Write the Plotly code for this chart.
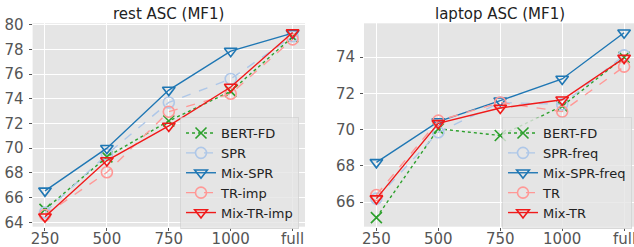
import plotly.graph_objects as go

categories = ["250", "500", "750", "1000", "full"]

rest_bert_fd = [65.05, 69.3, 72.2, 74.6, 79.0]
rest_spr = [64.8, 69.5, 73.7, 75.6, 79.05]
rest_mix_spr = [66.55, 70.0, 74.7, 77.85, 79.3]
rest_tr_imp = [64.6, 68.05, 72.95, 74.4, 78.8]
rest_mix_tr_imp = [64.45, 69.0, 71.8, 74.95, 79.35]

lap_bert_fd = [65.15, 70.05, 69.68, 71.3, 74.0]
lap_spr_freq = [66.2, 69.86, 71.5, 71.4, 74.1]
lap_mix_spr_freq = [68.2, 70.45, 71.6, 72.8, 75.35]
lap_tr = [66.4, 70.5, 71.5, 71.0, 73.48]
lap_mix_tr = [66.2, 70.35, 71.2, 71.65, 73.95]

GREEN = "#2ca02c"
LBLUE = "#aec7e8"
BLUE = "#1f77b4"
PINK = "#ff9896"
RED = "#f01a1a"

W, H = 634, 247
xs = list(range(len(categories)))

styles = [
    (GREEN, "dot", "x-thin-open"),
    (LBLUE, "dash", "circle-open"),
    (BLUE, "solid", "triangle-down-open"),
    (PINK, "dash", "circle-open"),
    (RED, "solid", "triangle-down-open"),
]

fig = go.Figure()

def add_panel(series, names, xa, ya, legend):
    for (vals, name, (c, d, s)) in zip(series, names, styles):
        fig.add_trace(go.Scatter(
            x=xs, y=vals, name=name, mode="lines+markers",
            line=dict(color=c, dash=d, width=1.4),
            marker=dict(symbol=s, size=11, color=c, line=dict(color=c, width=1.6)),
            xaxis=xa, yaxis=ya, legend=legend,
        ))

add_panel([rest_bert_fd, rest_spr, rest_mix_spr, rest_tr_imp, rest_mix_tr_imp],
          ["BERT-FD", "SPR", "Mix-SPR", "TR-imp", "Mix-TR-imp"], "x", "y", "legend")
add_panel([lap_bert_fd, lap_spr_freq, lap_mix_spr_freq, lap_tr, lap_mix_tr],
          ["BERT-FD", "SPR-freq", "Mix-SPR-freq", "TR", "Mix-TR"], "x2", "y2", "legend2")

ydom = [(H - 226.7) / H, (H - 23.3) / H]
axfont = dict(family="DejaVu Sans", size=15, color="#555555")
common = dict(showgrid=True, gridcolor="white", gridwidth=1, zeroline=False,
              ticks="outside", ticklen=3, tickcolor="#555555", tickfont=axfont,
              showline=False, automargin=False)

leg_common = dict(xanchor="left", yanchor="top",
                  bgcolor="rgba(229,229,229,0.8)", bordercolor="rgba(204,204,204,0.6)",
                  borderwidth=1, font=dict(family="DejaVu Sans", size=13, color="#222222"),
                  tracegroupgap=0, itemwidth=30)

right_ticktext = categories[:-1] + [""]

fig.update_layout(
    width=W, height=H,
    margin=dict(l=0, r=0, t=0, b=0, autoexpand=False),
    paper_bgcolor="white", plot_bgcolor="#E5E5E5",
    font=dict(family="DejaVu Sans"),
    xaxis=dict(domain=[32.6 / W, 305 / W], range=[-0.2, 4.2], tickvals=xs,
               ticktext=categories, anchor="y", ticklabelstandoff=-5, **common),
    yaxis=dict(domain=ydom, range=[63.65, 80.1], tickvals=list(range(64, 81, 2)),
               anchor="x", ticklabelstandoff=2, **common),
    xaxis2=dict(domain=[364 / W, 1.0], range=[-0.2, 4.16], tickvals=xs,
                ticktext=right_ticktext, anchor="y2", ticklabelstandoff=-5, **common),
    yaxis2=dict(domain=ydom, range=[64.65, 75.87], tickvals=[66, 68, 70, 72, 74],
                anchor="x2", ticklabelstandoff=2, **common),
    legend=dict(x=180 / W, y=(H - 117) / H, **leg_common),
    legend2=dict(x=502 / W, y=(H - 117) / H, **leg_common),
    annotations=[
        dict(text="rest ASC (MF1)", x=168.8 / W, y=(H - 14) / H, xref="paper", yref="paper",
             showarrow=False, xanchor="center", yanchor="middle",
             font=dict(family="DejaVu Sans", size=15, color="#222222")),
        dict(text="laptop ASC (MF1)", x=500 / W, y=(H - 14) / H, xref="paper", yref="paper",
             showarrow=False, xanchor="center", yanchor="middle",
             font=dict(family="DejaVu Sans", size=15, color="#222222")),
        dict(text=categories[-1], x=xs[-1], xref="x2", y=(H - 238.5) / H, yref="paper",
             showarrow=False, xanchor="center", yanchor="middle",
             font=axfont),
    ],
)

fig.write_html("out.html", config={"displayModeBar": False},
               post_script="document.body.style.margin='0';document.body.style.overflow='hidden';")
